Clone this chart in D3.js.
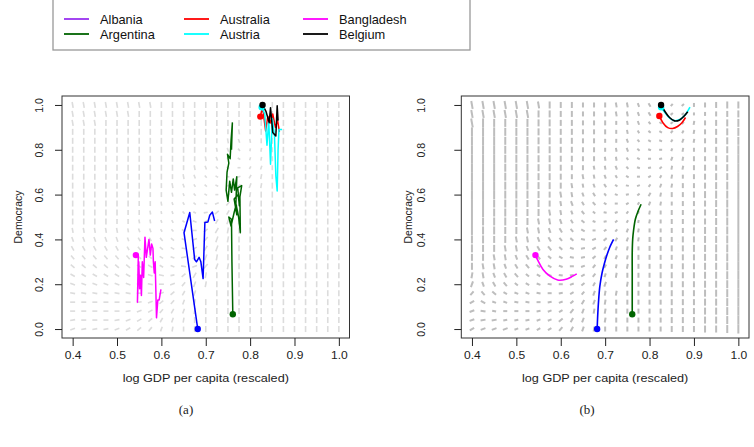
<!DOCTYPE html>
<html><head><meta charset="utf-8">
<script src="https://cdn.jsdelivr.net/npm/d3@7"></script>
<style>body{margin:0;background:#fff}svg{display:block}</style>
</head><body>
<svg id="c" width="754" height="447"></svg>
<script>
// ---------- data ----------
const countries = ["Albania","Argentina","Australia","Austria","Bangladesh","Belgium"];
const legendColors = ["#9932f0","#006400","#ff0000","#00ffff","#ff00ff","#000000"];
const lineColors = ["#0000ff","#006400","#ff0000","#00ffff","#ff00ff","#000000"];
const xTicks = [0.4,0.5,0.6,0.7,0.8,0.9,1.0];
const yTicks = [0.0,0.2,0.4,0.6,0.8,1.0];
const gridX = [0.4,0.425,0.45,0.475,0.5,0.525,0.55,0.575,0.6,0.625,0.65,0.675,0.7,0.725,0.75,0.775,0.8,0.825,0.85,0.875,0.9,0.925,0.95,0.975,1.0];
const gridY = [1.0,0.96,0.92,0.88,0.84,0.8,0.76,0.72,0.68,0.64,0.6,0.56,0.52,0.48,0.44,0.4,0.36,0.32,0.28,0.24,0.2,0.16,0.12,0.08,0.04,0.0];

// observed trajectories (panel a): [logGDP, democracy]
const albaniaA = [[0.682,0.0],[0.651,0.43],[0.664,0.52],[0.675,0.31],[0.679,0.30],[0.685,0.32],[0.689,0.30],[0.694,0.225],[0.698,0.475],[0.705,0.478],[0.709,0.508],[0.715,0.522],[0.720,0.482]];
const argentinaA = [[0.761,0.066],[0.759,0.30],[0.758,0.49],[0.752,0.50],[0.757,0.46],[0.764,0.52],[0.768,0.55],[0.770,0.51],[0.764,0.58],[0.773,0.60],[0.776,0.55],[0.772,0.63],[0.781,0.64],[0.777,0.59],[0.778,0.43],[0.774,0.50],[0.768,0.56],[0.770,0.68],[0.765,0.62],[0.762,0.67],[0.758,0.61],[0.754,0.66],[0.750,0.57],[0.746,0.62],[0.748,0.70],[0.752,0.74],[0.749,0.78],[0.755,0.76],[0.757,0.84],[0.760,0.92],[0.758,0.80]];
const australiaA = [[0.823,0.948],[0.828,0.99],[0.835,0.884],[0.840,0.95],[0.846,0.92],[0.851,0.96],[0.857,0.90],[0.862,0.93],[0.866,0.88]];
const austriaA = [[0.826,0.99],[0.833,0.96],[0.838,0.82],[0.842,0.93],[0.846,0.735],[0.850,0.94],[0.855,0.86],[0.858,0.683],[0.861,0.616],[0.863,0.80],[0.865,0.89],[0.872,0.89]];
const bangladeshA = [[0.5425,0.330],[0.548,0.330],[0.546,0.12],[0.549,0.30],[0.551,0.18],[0.553,0.24],[0.555,0.15],[0.557,0.30],[0.560,0.23],[0.563,0.41],[0.566,0.32],[0.569,0.36],[0.572,0.40],[0.575,0.33],[0.578,0.38],[0.581,0.36],[0.582,0.30],[0.584,0.25],[0.586,0.30],[0.589,0.05],[0.592,0.13],[0.595,0.13],[0.599,0.177]];
const belgiumA = [[0.828,1.0],[0.836,0.97],[0.843,0.921],[0.846,0.988],[0.851,0.877],[0.858,0.862],[0.861,0.996],[0.863,0.93]];

// model trajectories (panel b)
const albaniaB = [[0.682,0.0],[0.683,0.05],[0.685,0.12],[0.688,0.19],[0.693,0.25],[0.698,0.29],[0.704,0.33],[0.710,0.363],[0.719,0.40]];
const argentinaB = [[0.761,0.066],[0.761,0.15],[0.761,0.25],[0.761,0.34],[0.762,0.40],[0.764,0.44],[0.768,0.49],[0.774,0.525],[0.781,0.557]];
const australiaB = [[0.822,0.951],[0.830,0.921],[0.841,0.899],[0.852,0.895],[0.863,0.904],[0.873,0.921],[0.881,0.944]];
const austriaB = [[0.826,0.99],[0.835,0.965],[0.846,0.94],[0.857,0.93],[0.868,0.935],[0.880,0.955],[0.891,0.99]];
const bangladeshB = [[0.543,0.330],[0.549,0.304],[0.560,0.266],[0.575,0.237],[0.593,0.219],[0.612,0.222],[0.627,0.236],[0.636,0.246]];
const belgiumB = [[0.826,1.0],[0.834,0.973],[0.845,0.944],[0.856,0.929],[0.867,0.932],[0.878,0.951],[0.886,0.970]];

// vector field, one string per grid row (top y=1 to bottom y=0), one char per column
// angle code: a=0deg, b=10deg ... j=90deg ... r=170deg ; length digit in px
const fieldAAngle = [
"kkkkkkkkjjjjjjjjjjjjjjjjj",
"kkkkkkjjjjjjjjjjjjjjjjjjj",
"kkkjjjjjjjjjjjjjjjjjjjjjj",
"jjjjjjjjjjjjjjjkjjjjjjjjj",
"jjjjjjjjjjjjjjklkjjjjjjjj",
"jjjjjjjjjjjjjklniijjjjjjj",
"jjjjjjjjjjjjklnphijjjjjjj",
"jjjjjjjjjjjklnpaghjjjjjjj",
"jjjjjjjjjjklnprcgijjjjjjj",
"jjjjjjjjjklmoqbehijjjjjjj",
"jjjjjjjjjklnpadgijjjjjjjj",
"jjjjjjjjklmorcfhijjjjjjjj",
"jjjjjjjkklnpbegijjjjjjjjj",
"jjjjjjkklmoqdghijjjjjjjjj",
"kkkkkkllmnpaegijjjjjjjjjj",
"llllllmmnoqcfhijjjjjjjjjj",
"mmmmmmnnoprdghjjjjjjjjjjj",
"nnnnnnoopqbehijjjjjjjjjjj",
"oooooopppqrcfhijjjjjjjjjj",
"ppppppqqrbegijjjjjjjjjjjj",
"qqqqqqrracfhijjjjjjjjjjjj",
"rrrrrraacegh jjjjjjjjjjjj",
"aaaaaabcefhijjjjjjjjjjjjj",
"aaaaabcdfghijjjjjjjjjjjjj",
"baaabcdeghijjjjjjjjjjjjjj",
"cbbbcdefhijjjjjjjjjjjjjjj"];
const fieldALen = [
"6666666666666666666666666",
"6666666666666666666666666",
"6666666666666666666666666",
"6666666666666655566666666",
"6666666666666554456666666",
"6666666666665443345666666",
"6666666666655433345666666",
"6666666666554333345666666",
"6666666665543333455666666",
"6666666655433334556666666",
"6666666554333345566666666",
"6666665543333455666666666",
"6666655433334556666666666",
"6666554433345566666666666",
"5555544433445666666666666",
"5555544444456666666666666",
"5555544444456666666666666",
"5555555444556666666666666",
"5555555544556666666666666",
"5555555554566666666666666",
"5555555555566666666666666",
"5555555555566666666666666",
"5555555555566666666666666",
"5555555555566666666666666",
"5555555555566666666666666",
"5555555555566666666666666"];
const fieldBAngle = [
"kkkkkkkjjjjjjkklmnfejjjjj",
"kkkkkkjjjjjjjkklmneejjjjj",
"kjjjjjjjjjjjjjklnoefijjjj",
"jjjjjjjjjjjjjjkmopfgijjjj",
"jjjjjjjjjjjjjjlnpqghijjjj",
"jjjjjjjjjjjjjkloqahijjjjj",
"jjjjjjjjjjjjkkmpabhijjjjj",
"jjjjjjjjjjjkklnqbeiijjjjj",
"jjjjjjjjjjkklmpadgijjjjjj",
"jjjjjjjjjkklmorcfhijjjjjj",
"jjjjjjjjkklmnqbegijjjjjjj",
"jjjjjjjjklmnpadghijjjjjjj",
"jjjjjjjkklnorcfhijjjjjjjj",
"jjjjjjkklmoqbegiijjjjjjjj",
"jjjjjkklmnpadfhijjjjjjjjj",
"jjjjkklmnorceghijjjjjjjjj",
"jjjkklmnoqbdfhijjjjjjjjjj",
"jjkklmnoprbeghijjjjjjjjjj",
"jkklmnopqacfgiijjjjjjjjjj",
"iklmnopqrbdfhijjjjjjjjjjj",
"hlmnopqracegh ijjjjjjjjjj",
"fnopqqrabdfhiijjjjjjjjjjj",
"dpqqrrabceghijjjjjjjjjjjj",
"crraaabcdfhiijjjjjjjjjjjj",
"cbbbbbccegh ijjjjjjjjjjjj",
"dcccccddfghijjjjjjjjjjjjj"];
const fieldBLen = [
"8888887766555554433345677",
"8888887766555554433334567",
"9988887766555444333345678",
"9998887766555443333345678",
"9998887766554443333445678",
"9998887766554443333445679",
"9998887766554433334455679",
"9998887765544433334456679",
"9998887765544333334456779",
"9998887765444333344556789",
"9998887665443333445567889",
"9988877655443333444556789",
"9988877654433333445566789",
"9888776654433333445566789",
"9887766554433344445567789",
"8877665544444444555667789",
"8776655544444444556677889",
"7766555444444445555667789",
"7665554444444455555667789",
"6655544444444555566667789",
"6555444444445555556667789",
"5554444444455555556667789",
"5544444444555555556667789",
"5544444445555555556667789",
"5554444455555555556667789",
"5555444455555555556667789"];

// ---------- drawing ----------
const svg = d3.select("#c");
const font = "'Liberation Sans', Arial, sans-serif";

const panels = [
  {left:62, right:349.5, label:"(a)", capX:186, yLabOff:23, titleOff:44, trajs:[albaniaA,argentinaA,australiaA,austriaA,bangladeshA,belgiumA], fa:fieldAAngle, fl:fieldALen, fcol:"#dcdcdc", fw:1.6, tw:1.5},
  {left:461.3, right:749, label:"(b)", capX:587, yLabOff:40, titleOff:53, trajs:[albaniaB,argentinaB,australiaB,austriaB,bangladeshB,belgiumB], fa:fieldBAngle, fl:fieldBLen, fcol:"#bdbdbd", fw:2.0, tw:1.6}
];
const plotTop = 96, plotBottom = 338;

panels.forEach(p => {
  const x = d3.scaleLinear().domain([0.376,1.024]).range([p.left,p.right]);
  const y = d3.scaleLinear().domain([-0.04,1.04]).range([plotBottom,plotTop]);
  const g = svg.append("g");

  // vector field
  const segs = [];
  gridY.forEach((gy, r) => {
    gridX.forEach((gx, c) => {
      const ch = p.fa[r][c];
      if (!ch || ch === " ") return;
      const ang = (ch.charCodeAt(0) - 97) * 10 * Math.PI / 180;
      const len = +p.fl[r][c];
      const cx = x(gx), cy = y(gy);
      const dx = Math.cos(ang) * len / 2, dy = -Math.sin(ang) * len / 2;
      segs.push([cx - dx, cy - dy, cx + dx, cy + dy]);
    });
  });
  g.append("g").selectAll("line").data(segs).join("line")
    .attr("x1", d => d[0]).attr("y1", d => d[1]).attr("x2", d => d[2]).attr("y2", d => d[3])
    .attr("stroke", p.fcol).attr("stroke-width", p.fw).attr("stroke-linecap", "butt");

  // trajectories
  const line = d3.line().x(d => x(d[0])).y(d => y(d[1]));
  if (p.label === "(b)") line.curve(d3.curveCatmullRom);
  p.trajs.forEach((t, k) => {
    g.append("path").attr("d", line(t)).attr("fill", "none")
      .attr("stroke", lineColors[k]).attr("stroke-width", p.tw).attr("stroke-linejoin", "round");
  });
  p.trajs.forEach((t, k) => {
    g.append("circle").attr("cx", x(t[0][0])).attr("cy", y(t[0][1])).attr("r", 3.2).attr("fill", lineColors[k]);
  });

  // box
  g.append("rect").attr("x", p.left).attr("y", plotTop).attr("width", p.right - p.left).attr("height", plotBottom - plotTop)
    .attr("fill", "none").attr("stroke", "#333").attr("stroke-width", 1);

  // x axis
  const xa = g.append("g").attr("transform", `translate(0,${plotBottom})`)
    .call(d3.axisBottom(x).tickValues(xTicks).tickFormat(d3.format(".1f")).tickSize(8).tickPadding(6));
  xa.select(".domain").remove();
  xa.selectAll("line").attr("stroke", "#222");
  xa.selectAll("text").attr("font-family", font).attr("font-size", 10.5).attr("fill", "#222")
    .attr("transform", "scale(1.15,1)");

  // y axis
  const ya = g.append("g").attr("transform", `translate(${p.left},0)`)
    .call(d3.axisLeft(y).tickValues(yTicks).tickFormat(d3.format(".1f")).tickSize(7).tickPadding(0));
  ya.select(".domain").remove();
  ya.selectAll("line").attr("stroke", "#222");
  ya.selectAll("text").attr("font-family", font).attr("font-size", 10.5).attr("fill", "#222")
    .attr("text-anchor", "middle").attr("x", null).attr("dy", null)
    .attr("transform", `translate(${-p.yLabOff},0) rotate(-90)`).attr("dominant-baseline", "central");

  g.append("text").attr("transform", `translate(${(p.left + p.right) / 2},382) scale(1.15,1)`).attr("text-anchor", "middle")
    .attr("font-family", font).attr("font-size", 11).attr("fill", "#222").text("log GDP per capita (rescaled)");
  g.append("text").attr("transform", `translate(${p.left - p.titleOff},${(plotTop + plotBottom) / 2}) rotate(-90)`)
    .attr("text-anchor", "middle").attr("dominant-baseline", "central")
    .attr("font-family", font).attr("font-size", 10.5).attr("fill", "#222").text("Democracy");
  g.append("text").attr("x", p.capX).attr("y", 414).attr("text-anchor", "middle")
    .attr("font-family", "'Liberation Serif', 'DejaVu Serif', serif").attr("font-size", 13).attr("fill", "#222").text(p.label);
});

// legend
const leg = svg.append("g");
leg.append("rect").attr("x", 53).attr("y", -2).attr("width", 417).attr("height", 52)
  .attr("fill", "#fff").attr("stroke", "#999").attr("stroke-width", 1.3);
const colX = [64, 184, 303];
countries.forEach((name, k) => {
  const col = Math.floor(k / 2), row = k % 2;
  const cy = 19 + row * 15;
  leg.append("line").attr("x1", colX[col]).attr("x2", colX[col] + 25).attr("y1", cy).attr("y2", cy)
    .attr("stroke", legendColors[k]).attr("stroke-width", 1.8);
  leg.append("text").attr("x", colX[col] + 36).attr("y", cy).attr("dominant-baseline", "central")
    .attr("font-family", font).attr("font-size", 12.8).attr("fill", "#111").text(name);
});
</script>
</body></html>
